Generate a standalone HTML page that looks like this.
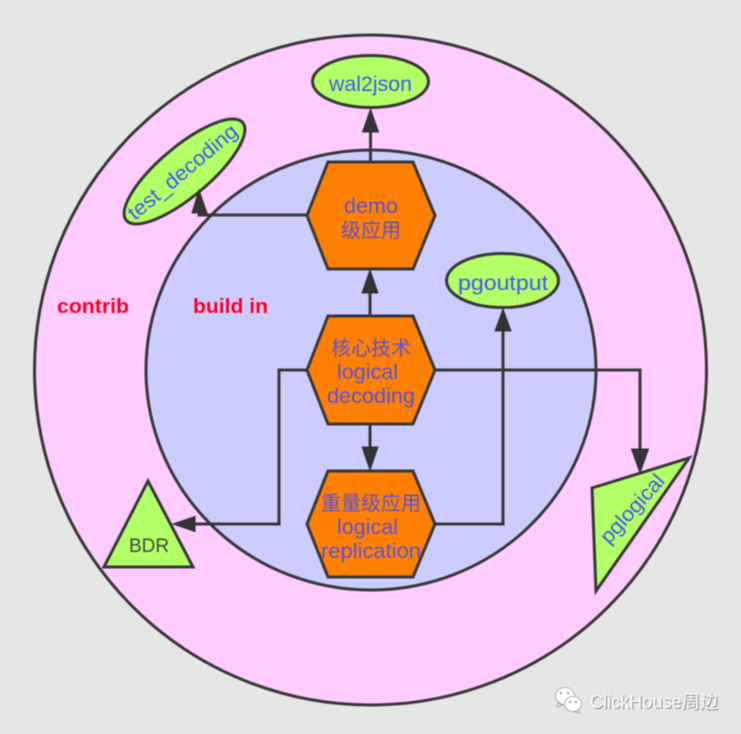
<!DOCTYPE html>
<html>
<head>
<meta charset="utf-8">
<style>
html,body{margin:0;padding:0;background:#e6e6e6;width:741px;height:734px;overflow:hidden}
svg{display:block;filter:blur(0.4px)}
text{font-family:"Liberation Sans","Noto Sans CJK SC",sans-serif}
.t{fill:#5a50d8;font-size:21px}
.c{fill:#5a50d8;font-size:20px}
.g{fill:#4a55ee;font-size:21px}
.l{fill:none;stroke:#383838;stroke-width:3}
.s{stroke:#383838;stroke-width:3}
.a{fill:#333;stroke:#333;stroke-width:1}
.r{fill:#ff0022;font-size:20px;font-weight:bold}
</style>
</head>
<body>
<svg width="741" height="734" viewBox="0 0 741 734" xmlns="http://www.w3.org/2000/svg">
<rect width="741" height="734" fill="#e6e6e6"/>
<ellipse cx="370.500" cy="370" rx="336" ry="335" fill="#ffccff" class="s"/>
<ellipse cx="371" cy="370" rx="225" ry="220" fill="#ccccff" class="s"/>

<ellipse cx="370.500" cy="81.500" rx="58" ry="26" fill="#b3ff66" class="s"/>
<ellipse cx="184.500" cy="171.500" rx="76" ry="25" transform="rotate(-40 184.500 171.500)" fill="#b3ff66" class="s"/>
<ellipse cx="502.500" cy="280.500" rx="56" ry="27" fill="#b3ff66" class="s"/>
<polygon points="148,481 104,567 193,567" fill="#b3ff66" class="s"/>
<polygon points="592,488 689,458 596,591" fill="#b3ff66" class="s"/>

<path class="l" d="M370.500 162V125"/>
<path class="l" d="M307 215H199V205"/>
<path class="l" d="M370 316V285"/>
<path class="l" d="M370 424V455"/>
<path class="l" d="M307 370H279V524H190"/>
<path class="l" d="M435 370H640V455"/>
<path class="l" d="M435 524H503V325"/>

<polygon class="a" points="370.500,109 362.500,132 378.500,132"/>
<polygon class="a" points="199,190 192,213 207,213"/>
<polygon class="a" points="370,270 362,293 378,293"/>
<polygon class="a" points="370,470 362,447 378,447"/>
<polygon class="a" points="173,524 195,516.500 195,531.500"/>
<polygon class="a" points="640,473 631.500,449 648.500,449"/>
<polygon class="a" points="503,309 495,331 511,331"/>

<polygon points="328,162 413,162 435,215.500 413,269 328,269 307,215.500" fill="#ff8000" class="s"/>
<polygon points="328,316 413,316 435,370 413,424 328,424 307,370" fill="#ff8000" class="s"/>
<polygon points="328,471 413,471 435,524 413,577 328,577 307,524" fill="#ff8000" class="s"/>

<text class="g" x="329" y="91" textLength="83" lengthAdjust="spacingAndGlyphs">wal2json</text>
<text class="g" x="0" y="0" transform="translate(135,221) rotate(-40)" textLength="136" lengthAdjust="spacingAndGlyphs">test_decoding</text>
<text class="g" x="458" y="290" textLength="90" lengthAdjust="spacingAndGlyphs">pgoutput</text>
<text x="149" y="552" font-size="19" fill="#444" text-anchor="middle">BDR</text>
<text class="g" x="0" y="0" transform="translate(609,545) rotate(-48)" textLength="85" lengthAdjust="spacingAndGlyphs">pglogical</text>

<text class="t" x="344" y="213" textLength="54" lengthAdjust="spacingAndGlyphs">demo</text>
<text class="c" x="341" y="237">级应用</text>
<text class="c" x="331" y="355">核心技术</text>
<text class="t" x="337" y="379" textLength="61" lengthAdjust="spacingAndGlyphs">logical</text>
<text class="t" x="327" y="403" textLength="88" lengthAdjust="spacingAndGlyphs">decoding</text>
<text class="c" x="321" y="510">重量级应用</text>
<text class="t" x="337" y="534" textLength="61" lengthAdjust="spacingAndGlyphs">logical</text>
<text class="t" x="321" y="558" textLength="100" lengthAdjust="spacingAndGlyphs">replication</text>

<text class="r" x="57" y="313" textLength="72" lengthAdjust="spacingAndGlyphs">contrib</text>
<text class="r" x="193" y="313" textLength="75" lengthAdjust="spacingAndGlyphs">build in</text>

<g fill="#fff" stroke="#999" stroke-width="0.800">
<ellipse cx="565" cy="696" rx="9.500" ry="8.500"/>
<path d="M558 703l-1 4 5-2z"/>
<ellipse cx="573" cy="704" rx="8.500" ry="7.500"/>
<path d="M578 710l2 3-5-1z"/>
</g>
<g fill="#777">
<circle cx="561" cy="693" r="1"/><circle cx="568" cy="693" r="1"/>
<circle cx="570" cy="702" r="1"/><circle cx="576" cy="702" r="1"/>
</g>
<text x="591" y="709" font-size="18" fill="#888" textLength="128" lengthAdjust="spacingAndGlyphs">ClickHouse周边</text>
<text x="590" y="708" font-size="18" fill="#fff" textLength="128" lengthAdjust="spacingAndGlyphs">ClickHouse周边</text>
</svg>
</body>
</html>
